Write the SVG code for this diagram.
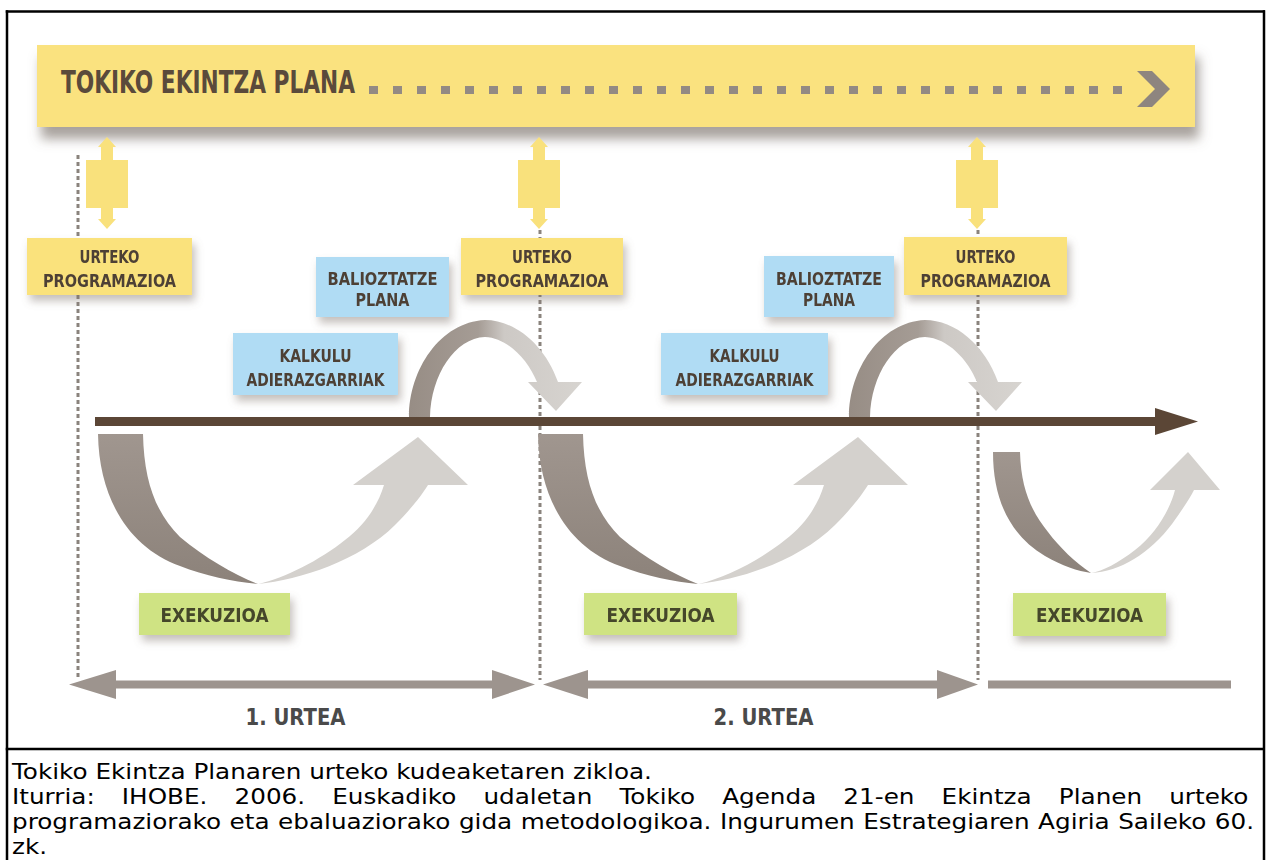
<svg xmlns="http://www.w3.org/2000/svg" width="1266" height="860" viewBox="0 0 1266 860">
<defs>
<style>
.lbl{font-family:"Liberation Sans Narrow","DejaVu Sans Condensed","DejaVu Sans",sans-serif;font-weight:bold;font-stretch:condensed;text-anchor:middle}
.yel{fill:#fae27c}
.blue{fill:#b0dcf4}
.green{fill:#cfe383}
.t1{fill:#4d4136;font-size:18px}
.tg{fill:#45462a;font-size:20px}
.ty{fill:#4a4a4a;font-size:23px}
.dot{stroke:#8a837d;stroke-width:3;stroke-dasharray:4 3;fill:none}
.yr{fill:#9d948e}
.dark{fill:url(#gDark)}
.light{fill:#d4d1cd}
.arch{fill:url(#gArch)}
.cap{font-family:"DejaVu Sans","Liberation Sans",sans-serif;font-size:21px;fill:#000}
.frame{stroke:#000;stroke-width:2.5;fill:none}
</style>
<filter id="sh" x="-20%" y="-30%" width="150%" height="190%">
<feGaussianBlur in="SourceAlpha" stdDeviation="4"/>
<feOffset dx="3" dy="6" result="b"/>
<feFlood flood-color="#7d726a" flood-opacity="0.45"/>
<feComposite in2="b" operator="in"/>
<feMerge><feMergeNode/><feMergeNode in="SourceGraphic"/></feMerge>
</filter>
<filter id="bsh" x="-5%" y="-30%" width="110%" height="190%">
<feGaussianBlur in="SourceAlpha" stdDeviation="6"/>
<feOffset dx="4" dy="12" result="b"/>
<feFlood flood-color="#6f655d" flood-opacity="0.6"/>
<feComposite in2="b" operator="in"/>
<feMerge><feMergeNode/><feMergeNode in="SourceGraphic"/></feMerge>
</filter>
<linearGradient id="gDark" x1="0" y1="0" x2="0" y2="1"><stop offset="0" stop-color="#a0968f"/><stop offset="1" stop-color="#8c827a"/></linearGradient>
<linearGradient id="gArch" x1="0" y1="0" x2="1" y2="0"><stop offset="0" stop-color="#978d85"/><stop offset="0.4" stop-color="#a59c95"/><stop offset="0.55" stop-color="#cdc9c5"/><stop offset="1" stop-color="#d7d4d0"/></linearGradient>
<path id="dbl" d="M0,137 L9,147 L6,147 L6,160 L21,160 L21,208 L6,208 L6,219 L9,219 L0,229 L-9,219 L-6,219 L-6,208 L-21,208 L-21,160 L-6,160 L-6,147 L-9,147 Z" fill="#f9e17c"/>
</defs>
<rect width="1266" height="860" fill="#fff"/>

<g id="banner">
<rect x="37" y="45" width="1158" height="82" fill="#fae27f" filter="url(#bsh)"/>
<text class="lbl" x="61" y="93" style="text-anchor:start;font-size:32px;fill:#5a4a3b" textLength="294" lengthAdjust="spacingAndGlyphs">TOKIKO EKINTZA PLANA</text>
<line x1="369" y1="90" x2="1125" y2="90" stroke="#938a83" stroke-width="8" stroke-dasharray="9 15"/>
<polygon points="1137,71 1152,71 1170,89 1152,107 1137,107 1155,89" fill="#8e857f"/>
</g>

<g id="connectors">
<line class="dot" x1="78" y1="155" x2="78" y2="680"/>
<line class="dot" x1="540" y1="230" x2="540" y2="680"/>
<line class="dot" x1="978" y1="230" x2="978" y2="680"/>
<use href="#dbl" x="107"/>
<use href="#dbl" x="539"/>
<use href="#dbl" x="977"/>
<g id="cycle1">
<path class="dark" d="M98,434 C99,500 130,548 180,566 C205,576 235,582 258,584 C235,575 205,558 180,537 C155,512 144,480 143,434 Z"/>
<path class="light" d="M258,584 C300,580 360,560 395,525 C410,510 422,495 428,485 L468,485 L418,437 L353,485 L384,485 C378,505 365,525 345,540 C320,560 285,578 258,584 Z"/>
<path class="arch" d="M409,417 C409,370 440,322 485,320 C515,320 545,345 558,382 L582,382 L556,411 L528,382 L537,382 C528,360 508,338 485,337 C455,338 431,375 430,417 Z"/>
</g>
<g id="cycle2" transform="translate(440,0)">
<path class="dark" d="M98,434 C99,500 130,548 180,566 C205,576 235,582 258,584 C235,575 205,558 180,537 C155,512 144,480 143,434 Z"/>
<path class="light" d="M258,584 C300,580 360,560 395,525 C410,510 422,495 428,485 L468,485 L418,437 L353,485 L384,485 C378,505 365,525 345,540 C320,560 285,578 258,584 Z"/>
<path class="arch" d="M409,417 C409,370 440,322 485,320 C515,320 545,345 558,382 L582,382 L556,411 L528,382 L537,382 C528,360 508,338 485,337 C455,338 431,375 430,417 Z"/>
</g>
<g id="cycle3">
<path class="dark" d="M993,452 C993,500 1010,535 1045,556 C1062,566 1078,571 1091,573 C1075,562 1060,548 1048,532 C1032,512 1021,490 1020,452 Z"/>
<path class="light" d="M1091,573 C1120,572 1150,553 1172,524 C1182,510 1190,498 1194,490 L1220,490 L1188,452 L1150,490 L1175,490 C1170,510 1155,535 1135,550 C1118,563 1103,571 1091,573 Z"/>
</g>
<g id="timeline">
<rect x="95" y="417" width="1062" height="9" fill="#5b4636"/>
<polygon points="1155,408 1198,421.5 1155,435" fill="#5b4636"/>
</g>
<g id="years">
<rect class="yr" x="114" y="680.5" width="380" height="8"/>
<polygon class="yr" points="69,684.5 116,670 116,699"/>
<polygon class="yr" points="535,684.5 492,670 492,699"/>
<rect class="yr" x="586" y="680.5" width="353" height="8"/>
<polygon class="yr" points="543,684.5 588,670 588,699"/>
<polygon class="yr" points="978,684.5 937,670 937,699"/>
<rect class="yr" x="988" y="680.5" width="243" height="8"/>
</g>
</g>

<g id="urteko1" filter="url(#sh)">
<rect class="yel" x="27" y="238" width="165" height="57"/>
<text class="lbl t1" x="109.5" y="263" textLength="60" lengthAdjust="spacingAndGlyphs">URTEKO</text>
<text class="lbl t1" x="109.5" y="287" textLength="133" lengthAdjust="spacingAndGlyphs">PROGRAMAZIOA</text>
</g>
<g id="urteko2" filter="url(#sh)">
<rect class="yel" x="461" y="238" width="162" height="57"/>
<text class="lbl t1" x="542" y="263" textLength="60" lengthAdjust="spacingAndGlyphs">URTEKO</text>
<text class="lbl t1" x="542" y="287" textLength="133" lengthAdjust="spacingAndGlyphs">PROGRAMAZIOA</text>
</g>
<g id="urteko3" filter="url(#sh)">
<rect class="yel" x="904" y="237" width="163" height="58"/>
<text class="lbl t1" x="985.5" y="263" textLength="60" lengthAdjust="spacingAndGlyphs">URTEKO</text>
<text class="lbl t1" x="985.5" y="287" textLength="130" lengthAdjust="spacingAndGlyphs">PROGRAMAZIOA</text>
</g>
<g id="balioztatze1" filter="url(#sh)">
<rect class="blue" x="316" y="257" width="133" height="60"/>
<text class="lbl t1" x="382.5" y="285" textLength="110" lengthAdjust="spacingAndGlyphs">BALIOZTATZE</text>
<text class="lbl t1" x="382.5" y="306" textLength="54" lengthAdjust="spacingAndGlyphs">PLANA</text>
</g>
<g id="balioztatze2" filter="url(#sh)">
<rect class="blue" x="764" y="256" width="130" height="61"/>
<text class="lbl t1" x="829" y="285" textLength="106" lengthAdjust="spacingAndGlyphs">BALIOZTATZE</text>
<text class="lbl t1" x="829" y="306" textLength="52" lengthAdjust="spacingAndGlyphs">PLANA</text>
</g>
<g id="kalkulu1" filter="url(#sh)">
<rect class="blue" x="233" y="333" width="165" height="62"/>
<text class="lbl t1" x="315.5" y="362" textLength="72" lengthAdjust="spacingAndGlyphs">KALKULU</text>
<text class="lbl t1" x="315.5" y="386" textLength="138" lengthAdjust="spacingAndGlyphs">ADIERAZGARRIAK</text>
</g>
<g id="kalkulu2" filter="url(#sh)">
<rect class="blue" x="661" y="333" width="167" height="62"/>
<text class="lbl t1" x="744.5" y="362" textLength="70" lengthAdjust="spacingAndGlyphs">KALKULU</text>
<text class="lbl t1" x="744.5" y="386" textLength="138" lengthAdjust="spacingAndGlyphs">ADIERAZGARRIAK</text>
</g>
<g id="exekuzioa1" filter="url(#sh)">
<rect class="green" x="139" y="593" width="151" height="42"/>
<text class="lbl tg" x="214.5" y="622" textLength="108" lengthAdjust="spacingAndGlyphs">EXEKUZIOA</text>
</g>
<g id="exekuzioa2" filter="url(#sh)">
<rect class="green" x="584" y="593" width="153" height="42"/>
<text class="lbl tg" x="660.5" y="622" textLength="108" lengthAdjust="spacingAndGlyphs">EXEKUZIOA</text>
</g>
<g id="exekuzioa3" filter="url(#sh)">
<rect class="green" x="1013" y="593" width="153" height="43"/>
<text class="lbl tg" x="1089.5" y="622" textLength="107" lengthAdjust="spacingAndGlyphs">EXEKUZIOA</text>
</g>
<g id="year1"><text class="lbl ty" x="295.5" y="725" textLength="100" lengthAdjust="spacingAndGlyphs">1. URTEA</text></g>
<g id="year2"><text class="lbl ty" x="763.5" y="725" textLength="100" lengthAdjust="spacingAndGlyphs">2. URTEA</text></g>

<g id="frame">
<line class="frame" x1="5.75" y1="11.5" x2="1265" y2="11.5"/>
<line class="frame" x1="7" y1="10.25" x2="7" y2="860"/>
<line class="frame" x1="1264" y1="10.25" x2="1264" y2="860"/>
<line class="frame" x1="5.75" y1="749" x2="1265" y2="749"/>
</g>
<g id="caption" transform="scale(1.175,1)">
<text class="cap" x="10.2" y="779">Tokiko Ekintza Planaren urteko kudeaketaren zikloa.</text>
<text class="cap" x="10.2" y="804" style="word-spacing:16.4px">Iturria: IHOBE. 2006. Euskadiko udaletan Tokiko Agenda 21-en Ekintza Planen urteko</text>
<text class="cap" x="10.2" y="829" style="word-spacing:0.6px">programaziorako eta ebaluaziorako gida metodologikoa. Ingurumen Estrategiaren Agiria Saileko 60.</text>
<text class="cap" x="10.2" y="854">zk.</text>
</g>
</svg>
